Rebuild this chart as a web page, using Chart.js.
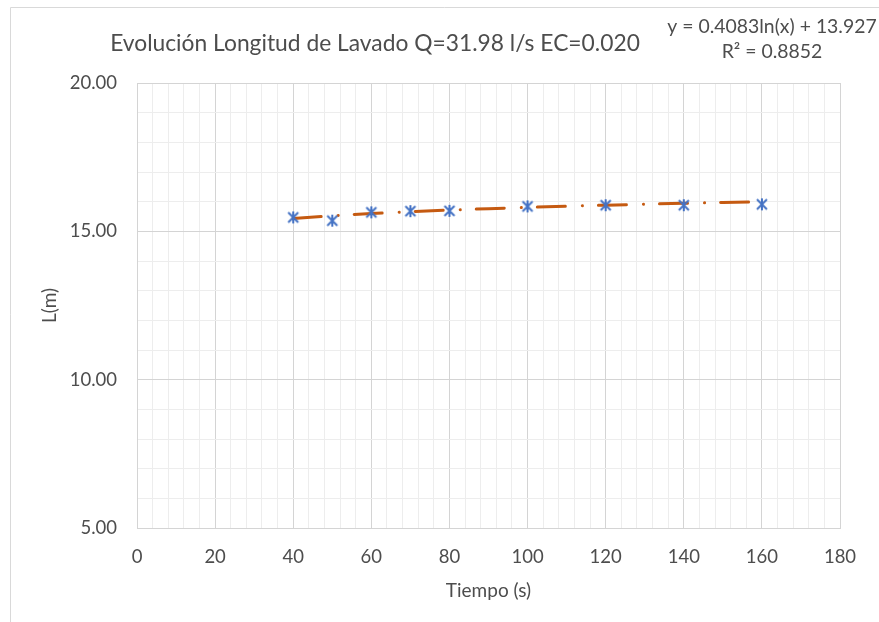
<!DOCTYPE html>
<html lang="es">
<head>
<meta charset="UTF-8">
<title>Evolución Longitud de Lavado</title>
<style>
  html, body { margin: 0; padding: 0; background: #fff; overflow: hidden; }
  .wrap { position: relative; width: 879px; height: 622px; }
</style>
</head>
<body>
<div class="wrap">
  <canvas id="chart" width="879" height="622"></canvas>
</div>

<script src="https://cdn.jsdelivr.net/npm/chart.js"></script>
<script>
// Mediciones
const tiempos = [40, 50, 60, 70, 80, 100, 120, 140, 160];
const longitudes = [15.47, 15.36, 15.64, 15.68, 15.69, 15.84, 15.88, 15.88, 15.91];

// Línea de tendencia logarítmica y = 0.4083ln(x) + 13.927
const tendX = [40, 50, 60, 70, 80, 90, 100, 110, 120, 130, 140, 150, 160];
const tendY = [15.433, 15.524, 15.599, 15.662, 15.716, 15.764, 15.807, 15.846, 15.882, 15.914, 15.945, 15.973, 15.999];

const titulo = 'Evolución Longitud de Lavado Q=31.98 l/s EC=0.020';
const ecuacion = ['y = 0.4083ln(x) + 13.927', 'R² = 0.8852'];

const FONT = 'Lato, "Open Sans", sans-serif';
const GRIS = '#4d4d4d';

// marcador tipo asterisco (X + vertical)
function estrella() {
    const c = document.createElement('canvas');
    c.width = 14; c.height = 14;
    const g = c.getContext('2d');
    g.strokeStyle = '#4472C4';
    g.lineWidth = 2;
    g.beginPath();
    g.moveTo(2, 2); g.lineTo(12, 12);
    g.moveTo(12, 2); g.lineTo(2, 12);
    g.moveTo(7, 1); g.lineTo(7, 13);
    g.stroke();
    return c;
}

const textos = {
    id: 'textos',
    beforeDraw(chart) {
        const ctx = chart.ctx;
        ctx.save();
        ctx.strokeStyle = '#d9d9d9';
        ctx.lineWidth = 1;
        ctx.beginPath();
        ctx.moveTo(10.5, 622);
        ctx.lineTo(10.5, 7.5);
        ctx.lineTo(879, 7.5);
        ctx.stroke();
        ctx.restore();
    },
    afterDraw(chart) {
        const ctx = chart.ctx;
        ctx.save();
        ctx.fillStyle = GRIS;
        ctx.textAlign = 'center';
        ctx.textBaseline = 'middle';
        ctx.font = '22.8px ' + FONT;
        ctx.fillText(titulo, 375, 44);
        ctx.font = '19.4px ' + FONT;
        ctx.fillText(ecuacion[0], 772, 27);
        ctx.fillText(ecuacion[1], 772, 52);
        ctx.restore();
    }
};

const ctx = document.getElementById('chart').getContext('2d');

new Chart(ctx, {
    type: 'scatter',
    data: {
        datasets: [
            {
                label: 'L(m)',
                data: tiempos.map((t, i) => ({ x: t, y: longitudes[i] })),
                pointStyle: estrella(),
                pointRadius: 7,
                showLine: false,
                order: 1
            },
            {
                label: 'Tendencia',
                data: tendX.map((t, i) => ({ x: t, y: tendY[i] })),
                showLine: true,
                borderColor: '#C55A11',
                borderWidth: 3,
                borderCapStyle: 'round',
                borderDash: [28, 17, 0.1, 16],
                pointRadius: 0,
                tension: 0,
                order: 2
            }
        ]
    },
    options: {
        responsive: false,
        animation: false,
        layout: { padding: { left: 10, right: 39, top: 83, bottom: 0 } },
        plugins: {
            legend: { display: false },
            tooltip: { enabled: false }
        },
        scales: {
            x: {
                type: 'linear',
                min: 0,
                max: 180,
                afterFit(s) { s.height = 94; },
                border: { color: '#d4d4d4', width: 1 },
                grid: {
                    drawTicks: false,
                    color: c => (c.tick && c.tick.value % 20 === 0) ? '#d4d4d4' : '#ededed'
                },
                ticks: {
                    stepSize: 4,
                    maxTicksLimit: 100,
                    autoSkip: false,
                    maxRotation: 0,
                    padding: 18,
                    color: GRIS,
                    font: { family: FONT, size: 18.5 },
                    callback: v => v % 20 === 0 ? String(v) : ''
                },
                title: {
                    display: true,
                    text: 'Tiempo (s)',
                    color: GRIS,
                    font: { family: FONT, size: 19 },
                    padding: { top: 0, bottom: 20 }
                }
            },
            y: {
                min: 5,
                max: 20,
                afterFit(s) { s.width = 127; },
                border: { color: '#d4d4d4', width: 1 },
                grid: {
                    drawTicks: false,
                    color: c => (c.tick && c.tick.value % 5 === 0) ? '#d4d4d4' : '#ededed'
                },
                ticks: {
                    stepSize: 1,
                    autoSkip: false,
                    padding: 20,
                    color: GRIS,
                    font: { family: FONT, size: 18.5 },
                    callback: v => v % 5 === 0 ? v.toFixed(2) : ''
                },
                title: {
                    display: true,
                    text: 'L(m)',
                    color: GRIS,
                    font: { family: FONT, size: 19 },
                    padding: { top: 28, bottom: 0 }
                }
            }
        }
    },
    plugins: [textos]
});
</script>
</body>
</html>
